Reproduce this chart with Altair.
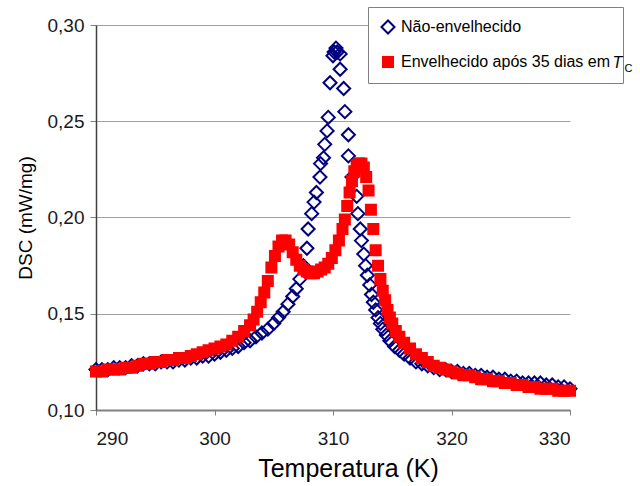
import altair as alt
import pandas as pd

FONT = "Liberation Sans"

series_names = ["Não-envelhecido", "Envelhecido após 35 dias em"]

blue_T = [290, 290.5, 291, 291.5, 292, 292.5, 293, 293.5, 294, 294.5, 295, 295.5, 296, 296.5,
          297, 297.5, 298, 298.5, 299, 299.5, 300, 300.5, 301, 301.5, 302, 302.5, 303, 303.5,
          304, 304.5, 305, 305.4, 305.8, 306.2, 306.6, 306.9, 307.2, 307.5, 307.8, 307.9, 308.2,
          308.4, 308.6, 308.9, 308.95, 309.2, 309.3, 309.5, 309.6, 309.75, 310.0, 310.1, 310.25,
          310.35, 310.6, 310.6, 310.9, 311.0, 311.3, 311.3, 311.6, 312.0, 312.1, 312.3, 312.4,
          312.6, 312.75, 312.9, 313.1, 313.25, 313.4, 313.6, 313.8, 314.0, 314.2, 314.5, 314.8,
          315.2, 315.6, 316.0, 316.5, 317, 317.5, 318, 318.5, 319, 319.5, 320, 320.5, 321, 321.5,
          322, 322.5, 323, 323.5, 324, 324.5, 325, 325.5, 326, 326.5, 327, 327.5, 328, 328.5,
          329, 329.5, 330]
blue_dsc = [0.121, 0.121, 0.121, 0.122, 0.122, 0.122, 0.123, 0.123, 0.124, 0.124, 0.124, 0.125,
            0.125, 0.125, 0.126, 0.126, 0.127, 0.127, 0.128, 0.128, 0.129, 0.130, 0.131, 0.132,
            0.133, 0.135, 0.136, 0.138, 0.140, 0.142, 0.145, 0.148, 0.151, 0.155, 0.159, 0.163,
            0.168, 0.175, 0.184, 0.194, 0.202, 0.208, 0.213, 0.221, 0.228, 0.231, 0.238, 0.245,
            0.252, 0.270, 0.284, 0.286, 0.288, 0.286, 0.285, 0.277, 0.267, 0.255, 0.243, 0.232,
            0.221, 0.211, 0.202, 0.194, 0.188, 0.181, 0.175, 0.170, 0.165, 0.160, 0.156, 0.152,
            0.148, 0.145, 0.142, 0.139, 0.136, 0.133, 0.131, 0.129, 0.127, 0.125, 0.124, 0.123,
            0.122, 0.121, 0.121, 0.120, 0.120, 0.119, 0.119, 0.118, 0.118, 0.117, 0.117, 0.116,
            0.116, 0.115, 0.115, 0.114, 0.114, 0.114, 0.114, 0.113, 0.113, 0.112, 0.112, 0.111]

red_T = [290, 290.5, 291, 291.5, 292, 292.5, 293, 293.5, 294, 294.5, 295, 295.5, 296, 296.5,
         297, 297.5, 298, 298.5, 299, 299.5, 300, 300.5, 301, 301.5, 302, 302.5, 303, 303.3,
         303.6, 303.9, 304.2, 304.5, 304.8, 305.1, 305.4, 305.7, 306.0, 306.3, 306.6, 306.9,
         307.2, 307.5, 307.8, 308.1, 308.4, 308.7, 309.0, 309.3, 309.6, 309.9, 310.2, 310.5,
         310.8, 311.0, 311.2, 311.4, 311.6, 311.8, 312.0, 312.2, 312.4, 312.6, 312.8, 313.0,
         313.2, 313.4, 313.6, 313.8, 314.0, 314.2, 314.4, 314.6, 314.8, 315.0, 315.3, 315.6,
         316.0, 316.5, 317, 317.5, 318, 318.5, 319, 319.5, 320, 320.5, 321, 321.5, 322, 322.5,
         323, 323.5, 324, 324.5, 325, 325.5, 326, 326.5, 327, 327.5, 328, 328.5, 329, 329.5, 330]
red_dsc = [0.120, 0.120, 0.121, 0.121, 0.121, 0.122, 0.122, 0.123, 0.124, 0.124, 0.125, 0.125,
           0.126, 0.126, 0.127, 0.127, 0.128, 0.129, 0.130, 0.131, 0.132, 0.133, 0.134, 0.136,
           0.138, 0.141, 0.144, 0.147, 0.151, 0.156, 0.161, 0.167, 0.174, 0.180, 0.185, 0.188,
           0.188, 0.186, 0.182, 0.178, 0.175, 0.173, 0.172, 0.171, 0.171, 0.172, 0.173, 0.174,
           0.176, 0.179, 0.183, 0.188, 0.194, 0.199, 0.206, 0.213, 0.219, 0.224, 0.227, 0.228,
           0.228, 0.226, 0.221, 0.214, 0.204, 0.194, 0.183, 0.175, 0.168, 0.162, 0.157, 0.152,
           0.148, 0.145, 0.141, 0.138, 0.135, 0.132, 0.129, 0.127, 0.125, 0.123, 0.122, 0.121,
           0.120, 0.119, 0.118, 0.118, 0.117, 0.116, 0.116, 0.115, 0.115, 0.114, 0.114, 0.113,
           0.113, 0.112, 0.112, 0.111, 0.111, 0.111, 0.110, 0.110, 0.110]

x_ticks = [290, 300, 310, 320, 330]
y_ticks = [0.10, 0.15, 0.20, 0.25, 0.30]

df = pd.concat([
    pd.DataFrame({"T": blue_T, "dsc": blue_dsc, "serie": series_names[0]}),
    pd.DataFrame({"T": red_T, "dsc": red_dsc, "serie": series_names[1]}),
], ignore_index=True)

x_scale = alt.Scale(domain=[290, 330], nice=False, zero=False)
y_scale = alt.Scale(domain=[0.10, 0.30], nice=False, zero=False)

NB = "\u00a0"
legend_label_expr = ("datum.label == '" + series_names[1] + "' ? datum.label + '" + NB * 6 +
                     "' : datum.label")

main = alt.Chart(df).mark_point(filled=False, strokeWidth=2, opacity=1).encode(
    x=alt.X("T:Q", scale=x_scale,
            axis=alt.Axis(values=x_ticks, title="Temperatura (K)", grid=False,
                          labelFontSize=19, titleFontSize=25, titleFontWeight="normal",
                          labelColor="#1a1a1a", titleColor="#000000",
                          domainColor="#808080", domainWidth=2, tickColor="#808080",
                          tickSize=5, labelPadding=14, titlePadding=8, titleX=252,
                          format="d")),
    y=alt.Y("dsc:Q", scale=y_scale,
            axis=alt.Axis(values=y_ticks, title="DSC (mW/mg)", grid=True,
                          gridColor="#a0a0a0", gridWidth=1,
                          labelExpr="replace(format(datum.value, '.2f'), '.', ',')",
                          labelFontSize=19, titleFontSize=19, titleFontWeight="normal",
                          labelColor="#1a1a1a", titleColor="#000000",
                          domainColor="#404040", domainWidth=1.5, tickColor="#808080",
                          tickSize=6, labelPadding=6, titlePadding=12)),
    color=alt.Color("serie:N", scale=alt.Scale(domain=series_names, range=["#000080", "#FF0000"]),
                    legend=alt.Legend(title=None, orient="none", legendX=272, legendY=-18,
                                      strokeColor="#808080", fillColor="#ffffff", padding=12,
                                      labelFontSize=16, labelFont=FONT, labelColor="#000000",
                                      labelLimit=0, rowPadding=15, labelOffset=5,
                                      labelExpr=legend_label_expr,
                                      symbolStrokeWidth=2, symbolOpacity=1)),
    shape=alt.Shape("serie:N", scale=alt.Scale(domain=series_names, range=["diamond", "square"])),
    fill=alt.Fill("serie:N", scale=alt.Scale(domain=series_names, range=["transparent", "#FF0000"])),
    size=alt.Size("serie:N", scale=alt.Scale(domain=series_names, range=[170, 100])),
)

# "T_C" of the legend label, drawn as axis titles so they sit above the legend box
annot = alt.Chart(df).mark_point(opacity=0).encode(
    x=alt.X("T:Q", scale=x_scale,
            axis=alt.Axis(orient="top", title="T", labels=False, ticks=False, domain=False,
                          grid=False, titleFont=FONT, titleFontSize=16, titleFontStyle="italic",
                          titleFontWeight="normal", titleColor="#000000", titleAlign="left",
                          titleBaseline="alphabetic", titleX=516, titleY=42, zindex=2)),
    y=alt.Y("dsc:Q", scale=y_scale,
            axis=alt.Axis(orient="right", title="C", labels=False, ticks=False, domain=False,
                          grid=False, titleFont=FONT, titleFontSize=11, titleAngle=0,
                          titleFontWeight="normal", titleColor="#000000", titleAlign="left",
                          titleBaseline="alphabetic", titleX=54, titleY=46, zindex=2)),
)

chart = alt.layer(main, annot).resolve_axis(x="independent", y="independent").properties(
    width=474, height=385,
    padding={"left": 96, "top": 25, "right": 70, "bottom": 76},
    autosize="none",
).configure_view(strokeWidth=0).configure_axis(labelFont=FONT, titleFont=FONT)

chart.save("out.html", embed_options={"renderer": "svg", "actions": False})
